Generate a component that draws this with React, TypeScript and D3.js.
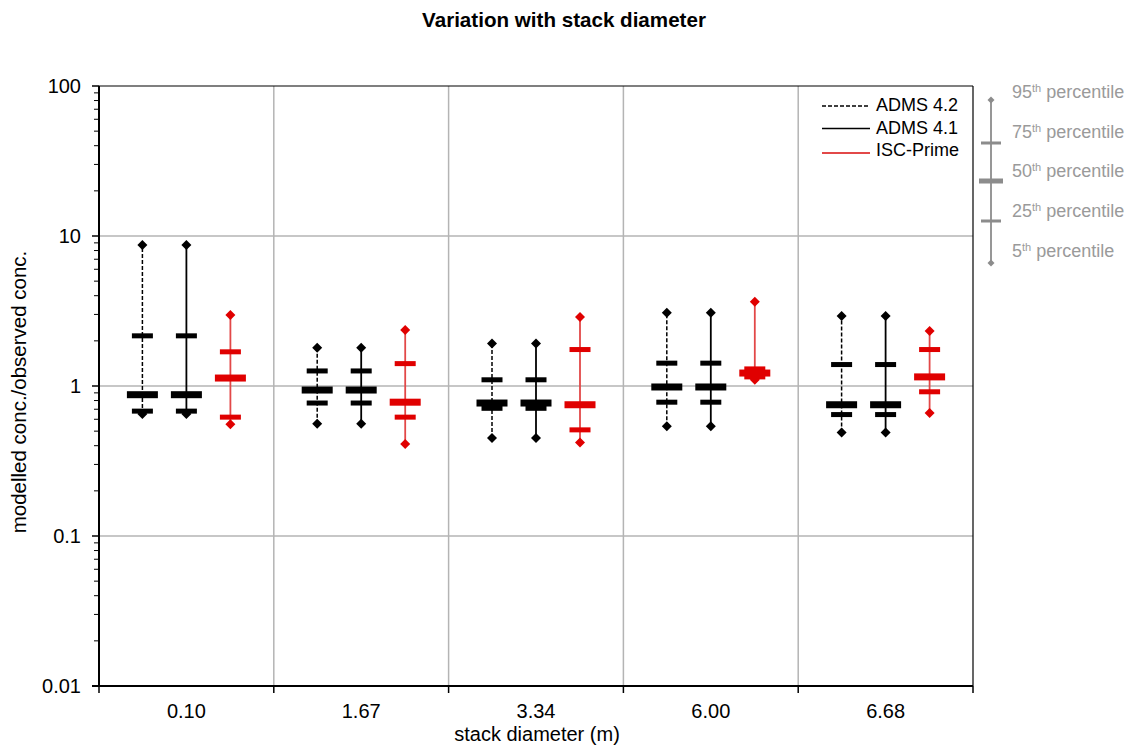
import React from "react";
import * as d3 from "d3";

const categories = ["0.10", "1.67", "3.34", "6.00", "6.68"];
const seriesNames = ["ADMS 4.2", "ADMS 4.1", "ISC-Prime"];

const adms42P5 = [0.65, 0.56, 0.45, 0.54, 0.49];
const adms42P25 = [0.68, 0.77, 0.71, 0.78, 0.645];
const adms42P50 = [0.875, 0.94, 0.77, 0.985, 0.75];
const adms42P75 = [2.16, 1.26, 1.1, 1.42, 1.39];
const adms42P95 = [8.7, 1.8, 1.92, 3.08, 2.93];

const adms41P5 = [0.65, 0.56, 0.45, 0.54, 0.49];
const adms41P25 = [0.68, 0.77, 0.71, 0.78, 0.645];
const adms41P50 = [0.875, 0.94, 0.77, 0.985, 0.75];
const adms41P75 = [2.16, 1.26, 1.1, 1.42, 1.39];
const adms41P95 = [8.7, 1.8, 1.92, 3.08, 2.93];

const iscP5 = [0.555, 0.41, 0.42, 1.1, 0.66];
const iscP25 = [0.62, 0.62, 0.51, 1.15, 0.915];
const iscP50 = [1.13, 0.78, 0.75, 1.22, 1.15];
const iscP75 = [1.69, 1.41, 1.75, 1.3, 1.75];
const iscP95 = [2.97, 2.36, 2.88, 3.65, 2.33];

const yTicks = [0.01, 0.1, 1, 10, 100];
const yTickLabels = ["0.01", "0.1", "1", "10", "100"];
const percentileLabels = ["95", "75", "50", "25", "5"];

const seriesData = [
  { name: seriesNames[0], p5: adms42P5, p25: adms42P25, p50: adms42P50, p75: adms42P75, p95: adms42P95, color: "#000", line: "#000", dash: "4,2" },
  { name: seriesNames[1], p5: adms41P5, p25: adms41P25, p50: adms41P50, p75: adms41P75, p95: adms41P95, color: "#000", line: "#000", dash: null },
  { name: seriesNames[2], p5: iscP5, p25: iscP25, p50: iscP50, p75: iscP75, p95: iscP95, color: "#e00000", line: "#e24848", dash: null },
];

const FONT = "'Liberation Sans', Arial, sans-serif";

function diamond(cx: number, cy: number, r: number) {
  return `M${cx},${cy - r}L${cx + r},${cy}L${cx},${cy + r}L${cx - r},${cy}Z`;
}

export default function App() {
  const W = 1132, H = 747;
  const left = 99, right = 973, top = 86, bottom = 686;
  const x = d3.scaleBand<string>().domain(categories).range([left, right]).padding(0);
  const xs = d3.scaleBand<string>().domain(seriesNames).range([-66, 66]);
  const y = d3.scaleLog().domain([0.01, 100]).range([bottom, top]);

  const minorTicks: number[] = [];
  for (let e = -2; e < 2; e++) {
    for (let m = 2; m <= 9; m++) minorTicks.push(m * Math.pow(10, e));
  }

  const boundaries = categories.map((c) => x(c)!).concat([right]);

  const kx = 991;
  const kYs = [100, 143, 181, 221, 263];
  const kLabelYs = [92, 132, 171, 211, 251];

  return (
    <svg width={W} height={H} style={{ position: "absolute", left: 0, top: 0, background: "#fff" }} fontFamily={FONT}>
      <rect x={0} y={0} width={W} height={H} fill="#fff" />
      <text x={564} y={27} textAnchor="middle" fontSize={20.6} fontWeight="bold" fill="#000">
        Variation with stack diameter
      </text>

      {[0.1, 1, 10].map((v) => (
        <line key={"hg" + v} x1={left} x2={right} y1={y(v)} y2={y(v)} stroke="#b4b4b4" strokeWidth={1.5} />
      ))}
      {boundaries.slice(1, -1).map((bx, i) => (
        <line key={"vg" + i} x1={bx} x2={bx} y1={top} y2={bottom} stroke="#b4b4b4" strokeWidth={1.5} />
      ))}

      <line x1={left} x2={right} y1={top} y2={top} stroke="#000" strokeWidth={1.2} />
      <line x1={right} x2={right} y1={top} y2={bottom} stroke="#000" strokeWidth={1.2} />
      <line x1={left} x2={left} y1={top} y2={bottom} stroke="#000" strokeWidth={2} />
      <line x1={left - 7} x2={right} y1={bottom} y2={bottom} stroke="#000" strokeWidth={2} />

      {yTicks.map((v, i) => (
        <g key={"yt" + v}>
          <line x1={left - 7} x2={left} y1={y(v)} y2={y(v)} stroke="#000" strokeWidth={1.5} />
          <text x={81} y={y(v)} dy="0.35em" textAnchor="end" fontSize={20} fill="#000">
            {yTickLabels[i]}
          </text>
        </g>
      ))}
      {minorTicks.map((v, i) => (
        <line key={"mt" + i} x1={left - 5} x2={left} y1={y(v)} y2={y(v)} stroke="#000" strokeWidth={1} />
      ))}

      {boundaries.map((bx, i) => (
        <line key={"xt" + i} x1={bx} x2={bx} y1={bottom} y2={bottom + 7} stroke="#000" strokeWidth={1.5} />
      ))}
      {categories.map((c) => (
        <text key={"xl" + c} x={x(c)! + x.bandwidth() / 2} y={718} textAnchor="middle" fontSize={20} fill="#000">
          {c}
        </text>
      ))}

      <text x={537} y={741} textAnchor="middle" fontSize={20} fill="#000">
        stack diameter (m)
      </text>
      <text transform={`translate(26,392) rotate(-90)`} textAnchor="middle" fontSize={20.5} fill="#000">
        modelled conc./observed conc.
      </text>

      {seriesData.map((s) => (
        <g key={s.name}>
          {categories.map((c, i) => {
            const cx = x(c)! + x.bandwidth() / 2 + xs(s.name)! + xs.bandwidth() / 2;
            return (
              <g key={c}>
                <line
                  x1={cx}
                  x2={cx}
                  y1={y(s.p5[i])}
                  y2={y(s.p95[i])}
                  stroke={s.line}
                  strokeWidth={s.dash ? 1.5 : 1.8}
                  strokeDasharray={s.dash || undefined}
                />
                <rect x={cx - 10.5} y={y(s.p75[i]) - 2.5} width={21} height={5} fill={s.color} />
                <rect x={cx - 10.5} y={y(s.p25[i]) - 2.5} width={21} height={5} fill={s.color} />
                <rect x={cx - 15.5} y={y(s.p50[i]) - 3.5} width={31} height={7} fill={s.color} />
                <path d={diamond(cx, y(s.p95[i]), 5)} fill={s.color} />
                <path d={diamond(cx, y(s.p5[i]), 5)} fill={s.color} />
              </g>
            );
          })}
        </g>
      ))}

      {seriesData.map((s, i) => {
        const ly = 106 + i * 22.5;
        return (
          <g key={"lg" + s.name}>
            <line
              x1={822}
              x2={870}
              y1={ly + (i === 2 ? 2 : 0)}
              y2={ly + (i === 2 ? 2 : 0)}
              stroke={s.line}
              strokeWidth={i === 2 ? 2 : 1.3}
              strokeDasharray={s.dash || undefined}
            />
            <text x={876} y={ly - 1} dy="0.35em" fontSize={18} fill="#000">
              {s.name}
            </text>
          </g>
        );
      })}

      <line x1={kx} x2={kx} y1={kYs[0]} y2={kYs[4]} stroke="#8c8c8c" strokeWidth={1.8} />
      <path d={diamond(kx, kYs[0], 3.5)} fill="#8c8c8c" />
      <path d={diamond(kx, kYs[4], 3.5)} fill="#8c8c8c" />
      <rect x={kx - 10} y={kYs[1] - 1.5} width={20} height={3} fill="#8c8c8c" />
      <rect x={kx - 12} y={kYs[2] - 2.5} width={24} height={5} fill="#8c8c8c" />
      <rect x={kx - 10} y={kYs[3] - 1.5} width={20} height={3} fill="#8c8c8c" />
      {percentileLabels.map((p, i) => (
        <text key={"pl" + p} x={1012} y={kLabelYs[i]} dy="0.35em" fontSize={18} fill="#9a9a9a">
          {p}
          <tspan fontSize={11} dy={-6}>th</tspan>
          <tspan dy={6}> percentile</tspan>
        </text>
      ))}
    </svg>
  );
}
